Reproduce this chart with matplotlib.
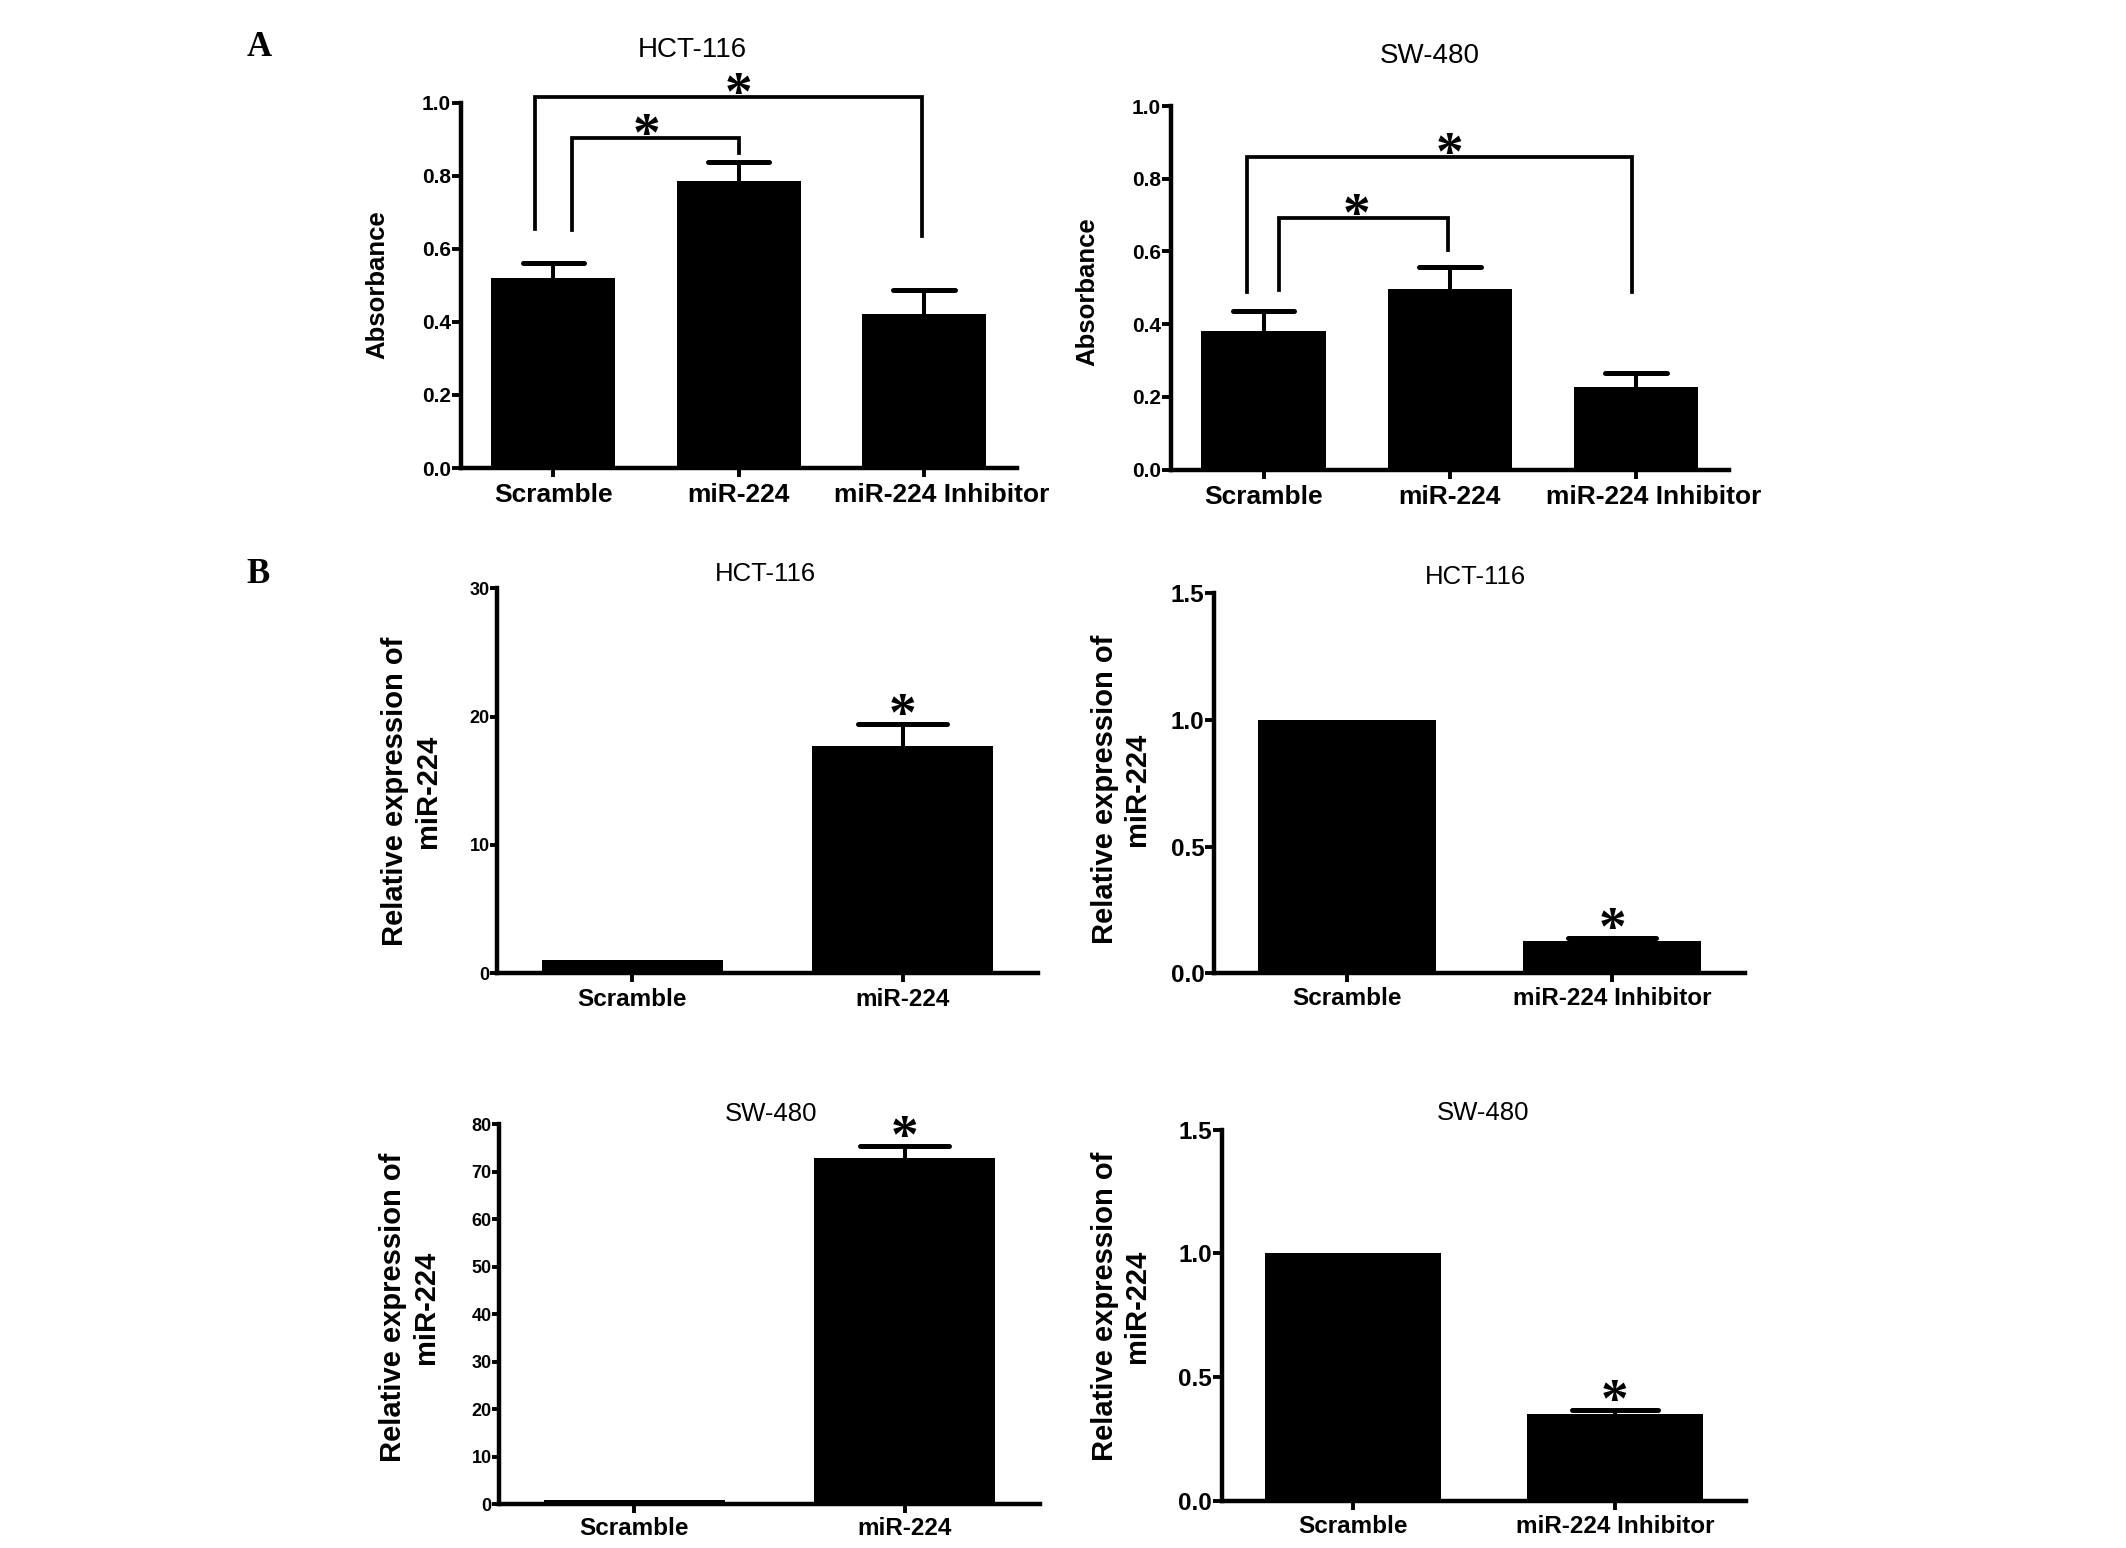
"""Proliferation (absorbance) and miR-224 expression bar charts for
HCT-116 and SW-480, drawn in the GraphPad look: black bars, upper-only
error bars, thick left/bottom axes and significance stars."""
import matplotlib
matplotlib.use("Agg")
import matplotlib.pyplot as plt
import matplotlib.transforms as mtransforms
import numpy as np
from matplotlib.font_manager import FontProperties
from matplotlib.textpath import TextPath

plt.rcParams['font.family'] = ['Liberation Sans', 'DejaVu Sans']

# ---- data ---------------------------------------------------------------
# Panel A: absorbance
groups_a = ["Scramble", "miR-224", "miR-224 Inhibitor"]
hct_abs = [0.519, 0.786, 0.422]
hct_abs_err = [0.043, 0.051, 0.064]
sw_abs = [0.380, 0.497, 0.227]
sw_abs_err = [0.055, 0.059, 0.039]

# Panel B: relative expression of miR-224
groups_mimic = ["Scramble", "miR-224"]
groups_inhib = ["Scramble", "miR-224 Inhibitor"]
hct_mimic = [1.0, 17.7]
hct_mimic_err = [0.0, 1.7]
hct_inhib = [1.0, 0.128]
hct_inhib_err = [0.0, 0.011]
sw_mimic = [1.0, 73.0]
sw_mimic_err = [0.0, 2.5]
sw_inhib = [1.0, 0.353]
sw_inhib_err = [0.0, 0.016]

# groups flagged with * in panel B
star_mimic = [False, True]
star_inhib = [False, True]

# ---- layout ---------------------------------------------------------------
W, H, DPI = 2126, 1548, 100
BAR_W = 0.67
CAP_W = 0.33

# comparison brackets for panel A: legs x, top y, leg bottoms (data units)
brackets_hct = [(-0.10, 1.99, 1.015, 0.654, 0.635),
                (0.10, 1.00, 0.904, 0.651, 0.861)]
brackets_sw = [(-0.09, 1.98, 0.859, 0.487, 0.487),
               (0.08, 0.99, 0.692, 0.494, 0.604)]
# star x for each bracket (midpoint of compared groups)
bracket_star_x = [1.0, 0.5]

# asterisk: sized and centred on its ink, not on the font box
STAR_FAMILY = ['Liberation Serif', 'DejaVu Serif']
STAR_INK_H = 15.0          # pt, ink height of the glyph
_star_bb = TextPath((0, 0), "*", size=1,
                    prop=FontProperties(family=STAR_FAMILY, weight='bold')).get_extents()
STAR_SIZE = STAR_INK_H / _star_bb.height
STAR_MID = 0.5 * (_star_bb.y0 + _star_bb.y1) * STAR_SIZE


def px_rect(x0, x1, y_top, y_bottom):
    return [x0 / W, 1 - y_bottom / H, (x1 - x0) / W, (y_bottom - y_top) / H]


def put_star(ax, x, y, gap_pt):
    # gap_pt: distance from (x, y) up to the centre of the star
    ax.annotate("*", xy=(x, y), xytext=(0, gap_pt - STAR_MID),
                textcoords='offset points', ha='center', va='baseline',
                annotation_clip=False, family=STAR_FAMILY,
                fontweight='bold', fontsize=STAR_SIZE)


def style_axes(ax, yticks, yfmt, ytick_size, xtick_size, ytick_len, xpad):
    for side in ("top", "right"):
        ax.spines[side].set_visible(False)
    for side in ("left", "bottom"):
        ax.spines[side].set_linewidth(3.2)
        ax.spines[side].set_capstyle('projecting')
    ax.set_ylim(0, yticks[-1])
    ax.set_yticks(yticks)
    ax.set_yticklabels([yfmt.format(t) for t in yticks],
                       fontsize=ytick_size, fontweight='bold')
    ax.tick_params(axis='y', length=ytick_len, width=2.8, pad=0.5)
    ax.tick_params(axis='x', length=6.5, width=2.8, pad=xpad,
                   labelsize=xtick_size)
    for lab in ax.get_xticklabels():
        lab.set_fontweight('bold')


def draw_bars(ax, labels, means, errs):
    x = np.arange(len(labels))
    ax.bar(x, means, width=BAR_W, color='black', linewidth=0, zorder=2)
    for xi, m, e in zip(x, means, errs):
        if e <= 0:
            continue
        ax.plot([xi, xi], [m, m + e], color='black', lw=2.9,
                solid_capstyle='butt', zorder=3)
        ax.plot([xi - CAP_W / 2, xi + CAP_W / 2], [m + e, m + e],
                color='black', lw=3.6, solid_capstyle='round', zorder=3)
    ax.set_xticks(x)
    ax.set_xticklabels(labels)
    ax.set_xlim(-0.5, len(labels) - 0.5)
    return x


def set_label(ax, text, size, pos):
    ax.set_ylabel(text, fontsize=size, fontweight='bold')
    ax.yaxis.set_label_coords(*pos)
    ax.yaxis.label.set_verticalalignment('center')
    ax.yaxis.label.set_rotation_mode('default')


def set_heading(ax, text, size, pos):
    ax.set_title(text, x=pos[0], y=pos[1], fontsize=size,
                 va='center', pad=0)


fig = plt.figure(figsize=(W / DPI, H / DPI), dpi=DPI)

# ---- panel A ---------------------------------------------------------------
abs_ticks = np.round(np.arange(0, 1.01, 0.2), 1)
panel_a = [
    (px_rect(460.7, 1016.7, 102.7, 468.0), "HCT-116", (0.416, 1.143),
     (-0.149, 0.503), hct_abs, hct_abs_err, brackets_hct),
    (px_rect(1170.7, 1729.0, 106.0, 469.5), "SW-480", (0.4635, 1.138),
     (-0.150, 0.489), sw_abs, sw_abs_err, brackets_sw),
]
for rect, name, tpos, lpos, means, errs, brackets in panel_a:
    ax = fig.add_axes(rect)
    draw_bars(ax, groups_a, means, errs)
    style_axes(ax, abs_ticks, "{:.1f}", 15, 19, 6.5, 4.5)
    # the long last label sits a little right of its bar in the original
    last = ax.get_xticklabels()[-1]
    last.set_transform(last.get_transform() + mtransforms.ScaledTranslation(
        13 / 72, 0, fig.dpi_scale_trans))
    set_heading(ax, name, 20, tpos)
    set_label(ax, "Absorbance", 18.5, lpos)
    for (xl, xr, top, yl, yr), sx in zip(brackets, bracket_star_x):
        ax.plot([xl, xl, xr, xr], [yl, top, top, yr], color='black', lw=2.7,
                clip_on=False, solid_joinstyle='miter', zorder=3)
        put_star(ax, sx, top, 10.0)

# ---- panel B ---------------------------------------------------------------
ylab_b = "Relative expression of\nmiR-224"
panel_b = [
    (px_rect(497.3, 1038.0, 588.3, 973.3), "HCT-116", (0.495, 1.037),
     (-0.159, 0.4735), groups_mimic, hct_mimic, hct_mimic_err, star_mimic,
     [0, 10, 20, 30], "{:d}", 13, 5.0, 4.0),
    (px_rect(1214.0, 1745.0, 593.3, 973.3), "HCT-116", (0.493, 1.044),
     (-0.175, 0.485), groups_inhib, hct_inhib, hct_inhib_err, star_inhib,
     [0.0, 0.5, 1.0, 1.5], "{:.1f}", 17.5, 6.5, 3.5),
    (px_rect(499.3, 1039.6, 1124.3, 1504.3), "SW-480", (0.503, 1.027),
     (-0.166, 0.518), groups_mimic, sw_mimic, sw_mimic_err, star_mimic,
     list(range(0, 81, 10)), "{:d}", 13, 5.0, 3.0),
    (px_rect(1221.8, 1746.0, 1129.7, 1501.0), "SW-480", (0.498, 1.045),
     (-0.192, 0.524), groups_inhib, sw_inhib, sw_inhib_err, star_inhib,
     [0.0, 0.5, 1.0, 1.5], "{:.1f}", 17.5, 6.5, 3.5),
]
for (rect, name, tpos, lpos, labels, means, errs, stars,
     yticks, yfmt, ysize, ylen, xpad) in panel_b:
    ax = fig.add_axes(rect)
    x = draw_bars(ax, labels, means, errs)
    style_axes(ax, yticks, yfmt, ysize, 17.5, ylen, xpad)
    set_heading(ax, name, 18.5, tpos)
    set_label(ax, ylab_b, 21, lpos)
    for xi, m, e, s in zip(x, means, errs, stars):
        if s:
            put_star(ax, xi, m + e, 14.4)

# panel letters
for letter, (lx, ly) in [("A", (259, 47)), ("B", (258, 574))]:
    fig.text(lx / W, 1 - ly / H, letter, ha='center', va='center',
             fontsize=25, fontweight='bold',
             family=['Liberation Serif', 'DejaVu Serif'])

fig.savefig("out.png", dpi=DPI, facecolor='white')
